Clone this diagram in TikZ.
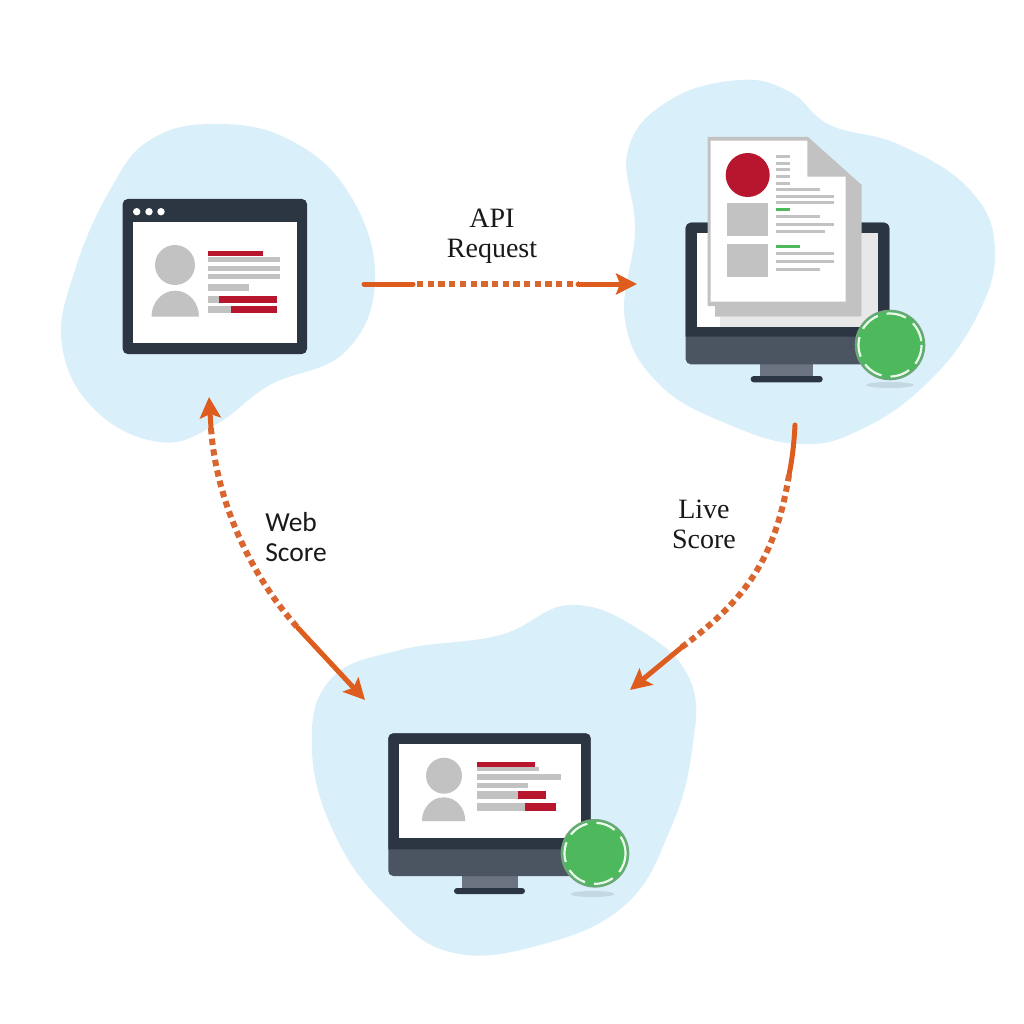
\documentclass[tikz,border=0pt]{standalone}
\usepackage{fontspec}
\setmainfont{Liberation Serif}
\newfontfamily\websans{Carlito}
\usetikzlibrary{arrows.meta}
\definecolor{blobc}{HTML}{D9F0FA}
\definecolor{darkc}{HTML}{2C3542}
\definecolor{basec}{HTML}{4A5561}
\definecolor{standc}{HTML}{6B7280}
\definecolor{redc}{HTML}{B8162F}
\definecolor{greyc}{HTML}{C2C2C2}
\definecolor{greenc}{HTML}{4DB85C}
\definecolor{lineg}{HTML}{6FA57C}
\definecolor{orangec}{HTML}{DE5C1E}
\definecolor{dashc}{HTML}{D9652F}
\tikzset{
 blob/.style={fill=blobc},
 darkfill/.style={fill=darkc},
 basefill/.style={fill=basec},
 standfill/.style={fill=standc},
 redfill/.style={fill=redc},
 greyfill/.style={fill=greyc},
 greenfill/.style={fill=greenc},
 whitefill/.style={fill=white},
 shadowfill/.style={fill=black!10!blobc},
 solidarrow/.style={draw=orangec,line width=5pt,line cap=round},
 dashpart/.style={draw=dashc,line width=6pt,dash pattern=on 6.3pt off 4.4pt},
 tip/.style={-{Stealth[length=21pt,width=21pt,inset=4pt]}},
 lab/.style={align=center,text=black!90,inner sep=0pt,font=\fontsize{28}{30}\selectfont},
 labsans/.style={align=left,text=black!90,inner sep=0pt,font=\websans\fontsize{27.5}{30}\selectfont},
 ringline/.style={draw=lineg,line width=1.6pt},
 ringdash/.style={draw=white!90!greenc,line width=2.2pt,dash pattern=on 20pt off 9pt},
}
\begin{document}
\begin{tikzpicture}[x=1pt,y=-1pt]
\useasboundingbox (0,0) rectangle (1024,1024);
\fill[white] (0,0) rectangle (1024,1024);
% blobs
\fill[blob] plot[smooth cycle,tension=0.7] coordinates {(215,124) (290,140) (350,195) (375,280) (345,352) (270,385) (215,425) (160,442) (95,410) (62,345) (75,270) (110,190) (150,140)};
\fill[blob] plot[smooth cycle,tension=0.7] coordinates {(740,80) (790,92) (830,125) (900,145) (970,190) (995,250) (975,320) (925,385) (860,430) (800,444) (730,425) (660,385) (625,320) (635,230) (628,150) (670,100)};
\fill[blob] plot[smooth cycle,tension=0.7] coordinates {(570,605) (640,630) (690,680) (692,750) (670,830) (625,905) (540,945) (450,952) (385,905) (335,835) (312,750) (330,680) (400,650) (500,635)};
% browser window
\fill[darkfill,rounded corners=5] (122.7,199) rectangle (307,354);
\fill[whitefill] (132.7,221.7) rectangle (296.7,343);
\foreach \x in {136.7,149,161} \fill[whitefill] (\x,211.7) circle[radius=3.7];
\fill[greyfill] (175,265) circle[radius=20];
\fill[greyfill] (151.5,316.7) .. controls (151.5,302.4) and (162,290.7) .. (175.25,290.7) .. controls (188.5,290.7) and (199,302.4) .. (199,316.7) -- cycle;
\fill[greyfill] (208,256.7) rectangle (280,261.7);
\fill[redfill] (208,251) rectangle (263,256);
\fill[greyfill] (208,265.7) rectangle (280,270.7);
\fill[greyfill] (208,274.3) rectangle (280,279.3);
\fill[greyfill] (208,284) rectangle (249,291);
\fill[greyfill] (208,295.7) rectangle (220,302.7);
\fill[redfill] (219,295.7) rectangle (277,302.7);
\fill[greyfill] (208,306) rectangle (231,312.7);
\fill[redfill] (231,306) rectangle (277,312.7);
% right monitor
\fill[shadowfill] (890,385) ellipse[x radius=24,y radius=3];
\fill[standfill] (760,364) -- (813,364) -- (813,376) -- (760,376) -- cycle;
\fill[darkfill,rounded corners=3] (750.7,376) rectangle (822.7,382.3);
\fill[basefill,rounded corners=5] (685.7,222.7) rectangle (889.3,364.3);
\fill[darkfill,rounded corners=5] (685.7,336.7) -- (685.7,222.7) -- (889.3,222.7) -- (889.3,336.7);
\fill[whitefill] (696.7,233.3) rectangle (878.3,326.7);
\fill[black!9] (861.7,233.3) rectangle (878.3,326.7);
\fill[black!9] (720,316.7) rectangle (878.3,326.7);
\fill[greyfill] (707.5,137) -- (808,137) -- (861.7,185) -- (861.7,316.7) -- (715,316.7) -- (715,306) -- (707.5,306) -- cycle;
\fill[whitefill] (710.7,140.7) -- (807.3,140.7) -- (807.3,176.7) -- (845.7,176.7) -- (845.7,301.7) -- (710.7,301.7) -- cycle;
\fill[redfill] (747.7,175) circle[radius=22];
\fill[greyfill] (726.7,202.7) rectangle (768.3,236);
\fill[greyfill] (726.7,244) rectangle (768.3,277.3);
\foreach \y in {156.7,163.3,170,176.7,183.3} \fill[greyfill] (776,\y-1.5) rectangle (790,\y+1.5);
\foreach \y/\e in {189.7/820,196.7/834,203/834,217/820,224.7/834,231.7/825,253.7/834,261/834,269/820} \fill[greyfill] (776,\y-1.5) rectangle (\e,\y+1.5);
\fill[greenfill] (776,208.5) rectangle (790,211.5);
\fill[greenfill] (776,244.5) rectangle (800,247.5);
% right badge
\draw[ringline,fill=greenc] (890,345) circle[radius=34.5];
\draw[ringdash] (890,345) circle[radius=31.5];
% bottom monitor
\fill[shadowfill] (592.7,894) ellipse[x radius=22,y radius=3];
\fill[standfill] (461.7,876) rectangle (517.7,888);
\fill[darkfill,rounded corners=3] (454,888) rectangle (525,894);
\fill[basefill,rounded corners=5] (388.3,733.3) rectangle (590.7,876);
\fill[darkfill,rounded corners=5] (388.3,849.3) -- (388.3,733.3) -- (590.7,733.3) -- (590.7,849.3);
\fill[whitefill] (399.3,744.3) rectangle (580.7,838.3);
\fill[greyfill] (444,775.7) circle[radius=18];
\fill[greyfill] (422,821) .. controls (422,808) and (431.5,797.3) .. (443.7,797.3) .. controls (456,797.3) and (465.3,808) .. (465.3,821) -- cycle;
\fill[greyfill] (477,767) rectangle (539,771);
\fill[redfill] (477,762.3) rectangle (535,767);
\fill[greyfill] (477,774.3) rectangle (561,780);
\fill[greyfill] (477,783.3) rectangle (528,788);
\fill[greyfill] (477,791.3) rectangle (518,799.3);
\fill[redfill] (518,791.3) rectangle (546,799.3);
\fill[greyfill] (477,802.7) rectangle (525,810.7);
\fill[redfill] (525,802.7) rectangle (556,810.7);
% bottom badge
\draw[ringline,fill=greenc] (595,853.3) circle[radius=33.5];
\draw[ringdash] (595,853.3) circle[radius=30.5];
% connector anchors
\coordinate (apiA) at (364,284);
\coordinate (apiB) at (413,284);
\coordinate (apiC) at (578,284);
\coordinate (apiD) at (637,284);
\coordinate (liveA) at (795,425);
\coordinate (liveB) at (789,475);
\coordinate (liveC) at (682,647);
\coordinate (liveD) at (630,690);
\coordinate (webA) at (209,397);
\coordinate (webB) at (211,428);
\coordinate (webC) at (298,628);
\coordinate (webD) at (365,700);
% connectors
\draw[solidarrow] (apiA) -- (apiB);
\draw[dashpart] (apiB) ++(4,0) -- (apiC);
\draw[solidarrow,tip] (apiC) -- (apiD);
\draw[solidarrow] (liveA) .. controls (794,445) and (792,460) .. (liveB);
\draw[dashpart] (liveB) .. controls (775,560) and (745,600) .. (liveC);
\draw[solidarrow,tip] (liveC) -- (liveD);
\draw[solidarrow,tip] (webB) -- (webA);
\draw[dashpart] (webB) .. controls (216,500) and (250,575) .. (webC);
\draw[solidarrow,tip] (webC) -- (webD);
% labels
\node[lab] (api) at (492,236) {API\\Request};
\node[lab] (live) at (704,524) {Live\\Score};
\node[labsans] (web) at (296,537) {Web\\Score};
\end{tikzpicture}
\end{document}
